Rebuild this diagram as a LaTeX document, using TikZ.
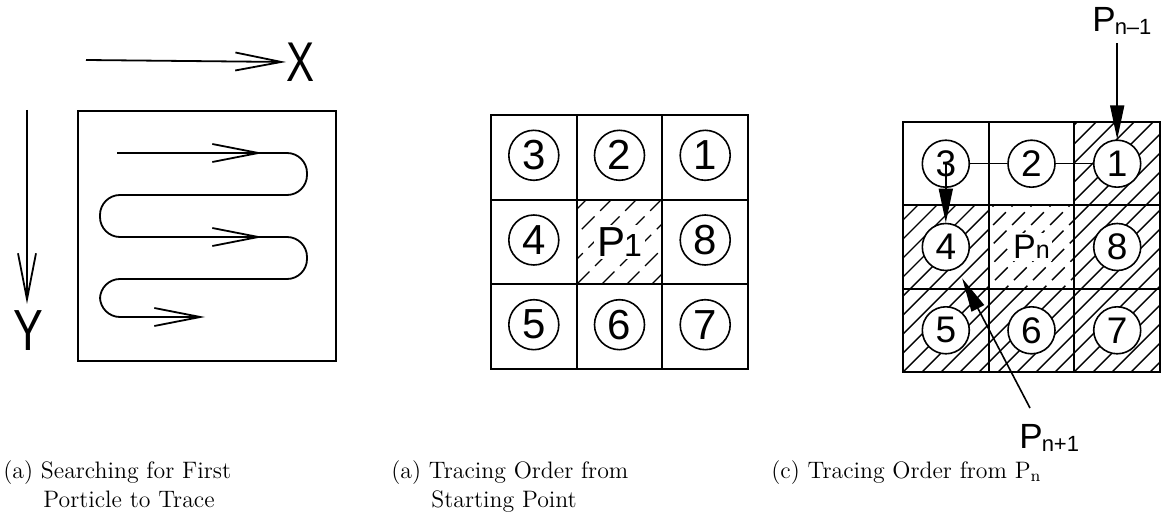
\documentclass[tikz,border=0pt]{standalone}
\usepackage{fontspec}
\newfontfamily\lab{Liberation Sans}
\usetikzlibrary{arrows.meta}

\tikzset{
  frame/.style={line width=1pt},
  openarrow/.style={-{Straight Barb[length=23pt,width=9pt]}, line width=0.9pt},
  fillarrow/.style={-{Triangle[length=17pt,width=7pt]}, line width=0.8pt},
  numb/.style={circle, draw, line width=0.8pt, fill=white, minimum size=25pt,
    inner sep=0pt, font=\lab\fontsize{21}{21}\selectfont},
  numc/.style={numb, minimum size=23.5pt, font=\lab\fontsize{18.5}{18.5}\selectfont},
  hatch/.style={line width=0.7pt},
  brokenhatch/.style={hatch, dash pattern=on 9pt off 4pt},
  caption/.style={anchor=base west, inner sep=0pt, font=\fontsize{11.9}{14}\selectfont},
  plabel/.style={anchor=base west, inner sep=0pt},
}

\begin{document}
\begin{tikzpicture}[x=0.5pt,y=-0.5pt]
\useasboundingbox (0,0) rectangle (1162,518);

% ---------- (a) raster search over the frame ----------
\node[anchor=west, inner sep=0pt] (xlab) at (286,62)
  {\lab\fontsize{28}{28}\selectfont\scalebox{0.75}[1]{X}};
\draw[openarrow] (86,60) -- (xlab.west);
\node[anchor=north, inner sep=0pt] (ylab) at (28,310)
  {\lab\fontsize{29}{29}\selectfont\scalebox{0.77}[1]{Y}};
\draw[openarrow, shorten >=3pt] (27,110) -- (ylab.north -| 27,0);
\draw[frame] (78,111) rectangle (336,361);
\draw[openarrow, rounded corners=10pt]
  (117,153) -- (307,153) -- (307,195) -- (100,195) -- (100,237)
  -- (307,237) -- (307,279) -- (100,279) -- (100,317) -- (205,317);
\draw[openarrow] (220,153) -- (263,153);
\draw[openarrow] (220,237) -- (263,237);

% ---------- (b) neighbour order around the start cell ----------
\begin{scope}
  \clip (576.67,199.67) rectangle (662.33,284.33);
  \foreach \k in {-100,-75,...,100}
    \draw[brokenhatch] (576.67+\k,284.33) -- ++(120,-120);
\end{scope}
\node[fill=white, inner sep=1.5pt] (p1) at (619.5,242)
  {\lab\fontsize{21}{21}\selectfont P\kern-0.5pt{\fontsize{16}{16}\selectfont 1}};
\draw[frame] (491,115) rectangle (748,369);
\draw[frame] (576.67,115) -- (576.67,369) (662.33,115) -- (662.33,369)
             (491,199.67) -- (748,199.67) (491,284.33) -- (748,284.33);
\node[numb] (b3) at (533.8,155.3) {3};
\node[numb] (b2) at (619.5,155.3) {2};
\node[numb] (b1) at (705.2,155.3) {1};
\node[numb] (b4) at (533.8,240)   {4};
\node[numb] (b8) at (705.2,240)   {8};
\node[numb] (b5) at (533.8,324.7) {5};
\node[numb] (b6) at (619.5,324.7) {6};
\node[numb] (b7) at (705.2,324.7) {7};

% ---------- (c) neighbour order around P_n ----------
\begin{scope}
  \clip (903,288.67) rectangle (1160,372)
        (903,205.33) rectangle (988.67,288.67)
        (1074.33,122) rectangle (1160,288.67);
  \foreach \k in {-266,-247,...,266}
    \draw[hatch] (903+\k,372) -- ++(300,-300);
\end{scope}
\begin{scope}
  \clip (988.67,205.33) rectangle (1074.33,288.67);
  \foreach \k in {-266,-247,...,266}
    \draw[brokenhatch] (903+\k,372) -- ++(300,-300);
\end{scope}
\node[fill=white, inner sep=1pt] (pn) at (1031.5,247)
  {\lab\fontsize{17}{17}\selectfont P{\fontsize{12.5}{12.5}\selectfont n}};
\draw[frame] (903,122) rectangle (1160,372);
\draw[frame] (988.67,122) -- (988.67,372) (1074.33,122) -- (1074.33,372)
             (903,205.33) -- (1160,205.33) (903,288.67) -- (1160,288.67);
\node[numc] (c3) at (945.8,163.7)  {3};
\node[numc] (c2) at (1031.5,163.7) {2};
\node[numc] (c1) at (1117.2,163.7) {1};
\node[numc] (c4) at (945.8,247)    {4};
\node[numc] (c8) at (1117.2,247)   {8};
\node[numc] (c5) at (945.8,330.3)  {5};
\node[numc] (c6) at (1031.5,330.3) {6};
\node[numc] (c7) at (1117.2,330.3) {7};

\draw[line width=0.8pt] (c3) -- (c2);
\draw[line width=0.8pt] (c2) -- (c1);
\draw[fillarrow] (c3.center) -- (c4.north);

\node[plabel] (pprev) at (1092,32)
  {\lab\fontsize{17.5}{17.5}\selectfont P\kern-0.5pt\raisebox{-1.5pt}{\fontsize{11}{11}\selectfont n–1}};
\draw[fillarrow, shorten <=4pt] (pprev.south -| c1.north) -- (c1.north);

\node[plabel] (pnext) at (1019,448)
  {\lab\fontsize{17.5}{17.5}\selectfont P\kern-0.5pt\raisebox{-1.5pt}{\fontsize{11}{11}\selectfont n+1}};
\coordinate (nextfoot) at (1030,408);
\draw[fillarrow, shorten >=5.5pt] (nextfoot) -- (c4);

% ---------- captions ----------
\node[caption] (capa1) at (3,478)   {(a) Searching for First};
\node[caption] (capa2) at (43,507)  {Porticle to Trace};
\node[caption] (capb1) at (391,478) {(a) Tracing Order from};
\node[caption] (capb2) at (431,507) {Starting Point};
\node[caption] (capc)  at (771,478) {(c) Tracing Order from $\mathrm{P}_{\mathrm{n}}$};
\end{tikzpicture}
\end{document}
